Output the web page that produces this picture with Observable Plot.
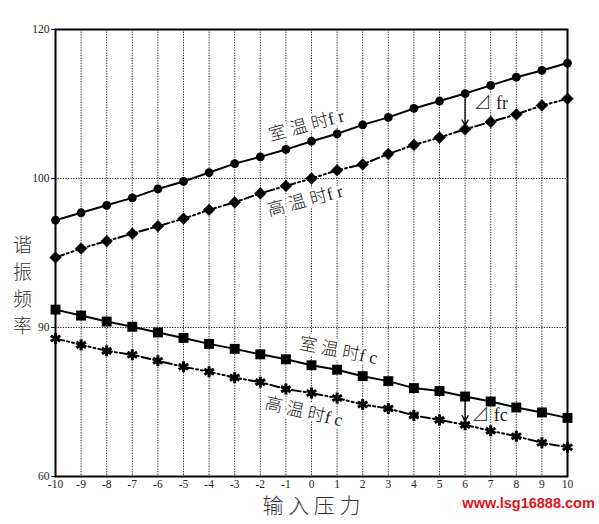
<!DOCTYPE html>
<html><head><meta charset="utf-8">
<script src="https://cdn.jsdelivr.net/npm/d3@7"></script>
<script src="https://cdn.jsdelivr.net/npm/@observablehq/plot@0.6"></script>
<style>
body{margin:0;background:#fff;}
#chart svg{display:block;}
</style></head><body><div id="chart"></div>
<script>
const pressure = [-10,-9,-8,-7,-6,-5,-4,-3,-2,-1,0,1,2,3,4,5,6,7,8,9,10];
const frRoom = [97.2,97.7,98.2,98.7,99.3,99.8,100.8,102.0,102.9,103.9,105.0,106.0,107.2,108.2,109.4,110.4,111.4,112.5,113.6,114.5,115.5];
const frHigh = [94.7,95.3,95.8,96.3,96.8,97.3,97.9,98.4,99.0,99.5,100.0,101.1,101.9,103.3,104.5,105.5,106.6,107.6,108.6,109.8,110.7];
const fcRoom = [91.2,90.8,90.4,90.05,89.0,87.9,86.7,85.7,84.6,83.6,82.4,81.5,80.2,79.2,77.8,77.2,76.1,75.1,73.9,72.9,71.8];
const fcHigh = [87.8,86.5,85.3,84.5,83.3,82.1,81.1,79.9,79.0,77.6,76.8,75.8,74.5,73.7,72.3,71.4,70.4,69.2,68.1,66.8,65.9];
const yTicks = [60,90,100,120];
const xTicks = pressure;
const labels = {frRoom:"室 温 时f r", frHigh:"高 温 时f r", fcRoom:"室 温 时f c", fcHigh:"高 温 时f c", dfr:"⊿ fr", dfc:"⊿ fc"};
const yTitle = "谐\n振\n频\n率";
const xTitle = "输 入 压 力";
const watermark = "www.lsg16888.com";

// broken (piecewise) value axis: the four labelled values sit at equal spacing
const breakIndex = d3.scaleLinear().domain(yTicks).range(yTicks.map((_, i) => i));

const rows = (arr, s) => pressure.map((x, i) => ({x, y: arr[i], s}));
const dFR = rows(frRoom, "frRoom"), dFH = rows(frHigh, "frHigh"), dCR = rows(fcRoom, "fcRoom"), dCH = rows(fcHigh, "fcHigh");
const iArrow = pressure.indexOf(6);
const dash = "9,3,2,3,2,3";
const grid = {stroke:"#000", strokeWidth:1, strokeDasharray:"1.3,1.3", strokeOpacity:0.85};
const lab = {fontFamily:"Liberation Serif, 'Noto Sans CJK SC'", fontWeight:300, fontSize:17.5, fill:"#222", stroke:"#fff", strokeWidth:6};

const chart = Plot.plot({
  width: 599, height: 524,
  marginLeft: 55, marginRight: 32, marginTop: 29, marginBottom: 48,
  style: {fontFamily: "Liberation Serif", fontSize: "11.5px", color: "#222", background: "#fff"},
  x: {domain: [-10, 10], ticks: xTicks, tickSize: 0, tickPadding: 3, tickFormat: d => String(d), label: null},
  y: {transform: breakIndex, domain: [0, yTicks.length - 1], ticks: yTicks.map((_, i) => i), tickFormat: i => String(yTicks[i]), tickSize: 4, tickPadding: 2, label: null},
  marks: [
    Plot.ruleX(xTicks.filter(d => d > -10 && d < 10), grid),
    Plot.ruleY([90, 100], grid),
    Plot.text([labels.frRoom], {x: -0.2, y: 107.1, rotate: -15, ...lab}),
    Plot.text([labels.frHigh], {x: -0.25, y: 98.5, rotate: -15, ...lab}),
    Plot.text([labels.fcRoom], {x: 1.05, y: 85.3, rotate: 11, ...lab}),
    Plot.text([labels.fcHigh], {x: -0.3, y: 73.0, rotate: 13, ...lab}),
    Plot.text([labels.dfr], {x: 7.0, y: 110.1, ...lab, fontSize: 18, strokeWidth: 3}),
    Plot.text([labels.dfc], {x: 6.95, y: 72.3, ...lab, fontSize: 18, strokeWidth: 3}),
    Plot.line(dFR, {x: "x", y: "y", stroke: "#000", strokeWidth: 2}),
    Plot.line(dCR, {x: "x", y: "y", stroke: "#000", strokeWidth: 2}),
    Plot.line(dFH, {x: "x", y: "y", stroke: "#000", strokeWidth: 2, strokeDasharray: dash}),
    Plot.line(dCH, {x: "x", y: "y", stroke: "#000", strokeWidth: 2, strokeDasharray: dash}),
    Plot.arrow([{x: 6, a: frRoom[iArrow], b: frHigh[iArrow]}, {x: 6, a: fcRoom[iArrow], b: fcHigh[iArrow]}],
      {x1: "x", x2: "x", y1: "a", y2: "b", stroke: "#000", strokeWidth: 1.3, headLength: 7, insetStart: 3, insetEnd: 4}),
    Plot.dot(dFR, {x: "x", y: "y", symbol: "circle", r: 4.4, fill: "#000"}),
    Plot.dot(dFH, {x: "x", y: "y", symbol: "diamond2", r: 5.3, fill: "#000", stroke: "#000", strokeWidth: 0.5}),
    Plot.dot(dCR, {x: "x", y: "y", symbol: "square", r: 5.6, fill: "#000"}),
    Plot.dot(dCH, {x: "x", y: "y", symbol: "asterisk", r: 5.2, stroke: "#000", strokeWidth: 3}),
    Plot.frame({stroke: "#000", strokeWidth: 2}),
    Plot.text([yTitle], {frameAnchor: "left", dx: -33, dy: 31, textAnchor: "middle", lineHeight: 1.42, fontSize: 19, fontWeight: 300, fontFamily: "'Noto Sans CJK SC'", fill: "#333"}),
    Plot.text([xTitle], {frameAnchor: "bottom", dy: 36, fontSize: 21, fontWeight: 300, fontFamily: "'Noto Sans CJK SC'", fill: "#333"}),
    Plot.text([watermark], {x: 8.48, frameAnchor: "bottom", dy: 31, fontSize: 14.5, fontWeight: "bold", fontFamily: "Liberation Sans", fill: "#e0141b"})
  ]
});
document.getElementById("chart").appendChild(chart);
</script></body></html>
